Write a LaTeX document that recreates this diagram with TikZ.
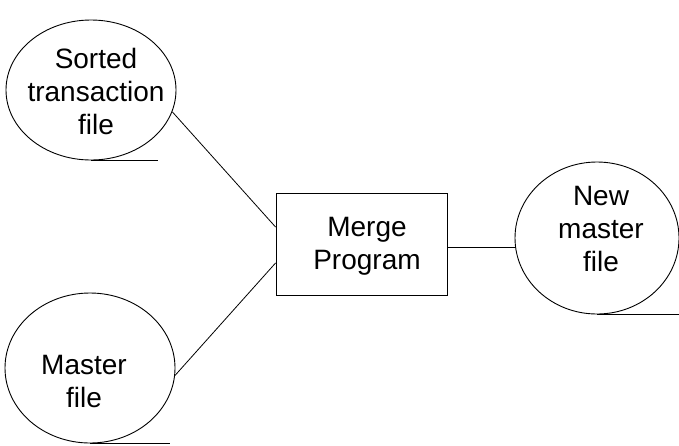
\documentclass[tikz,border=0pt]{standalone}
\usepackage{fontspec}
\setmainfont{Liberation Sans}
\usetikzlibrary{shapes.geometric}

\tikzset{
	tapefile/.style = {ellipse, draw, line width=0.9pt, inner sep=0pt},
	progbox/.style = {rectangle, draw, line width=0.9pt, inner sep=0pt,
		minimum width=171pt, minimum height=102pt},
	caption/.style = {inner sep=0pt, align=center, font=\fontsize{28}{33}\selectfont},
	link/.style = {line width=0.8pt}
}

\begin{document}
\begin{tikzpicture}[x=1pt,y=-1pt]
	\useasboundingbox (0,0) rectangle (679,445);

	% files and program
	\node (sorted) at (91,90) [tapefile, minimum width=170pt, minimum height=140pt] {};
	\node (master) at (90,368) [tapefile, minimum width=170pt, minimum height=150pt] {};
	\node (merge) at (361.5,244) [progbox] {};
	\node (newmaster) at (597,238) [tapefile, minimum width=164pt, minimum height=152pt] {};

	\node (sortedtext) at (96,91) [caption] {Sorted\\transaction\\file};
	\node (mastertext) at (84,381) [caption] {Master\\file};
	\node (mergetext) at (367,246) [caption] {Merge\\Program};
	\node (newmastertext) at (601,229) [caption] {New\\master\\file};

	% tails of the files
	\draw [link] (sorted.south) -- ++(67,0);
	\draw [link] (master.south) -- ++(80,0);
	\draw [link] (newmaster.south) -- ++(82,0);

	% connectors
	\draw [link] (sorted.-15) -- ([yshift=17pt]merge.west);
	\draw [link] (master.-5) -- ([yshift=-19pt]merge.west);
	\draw [link] ([yshift=-3pt]merge.east) -- ([yshift=-3pt]newmaster.west |- merge.east);
\end{tikzpicture}
\end{document}
